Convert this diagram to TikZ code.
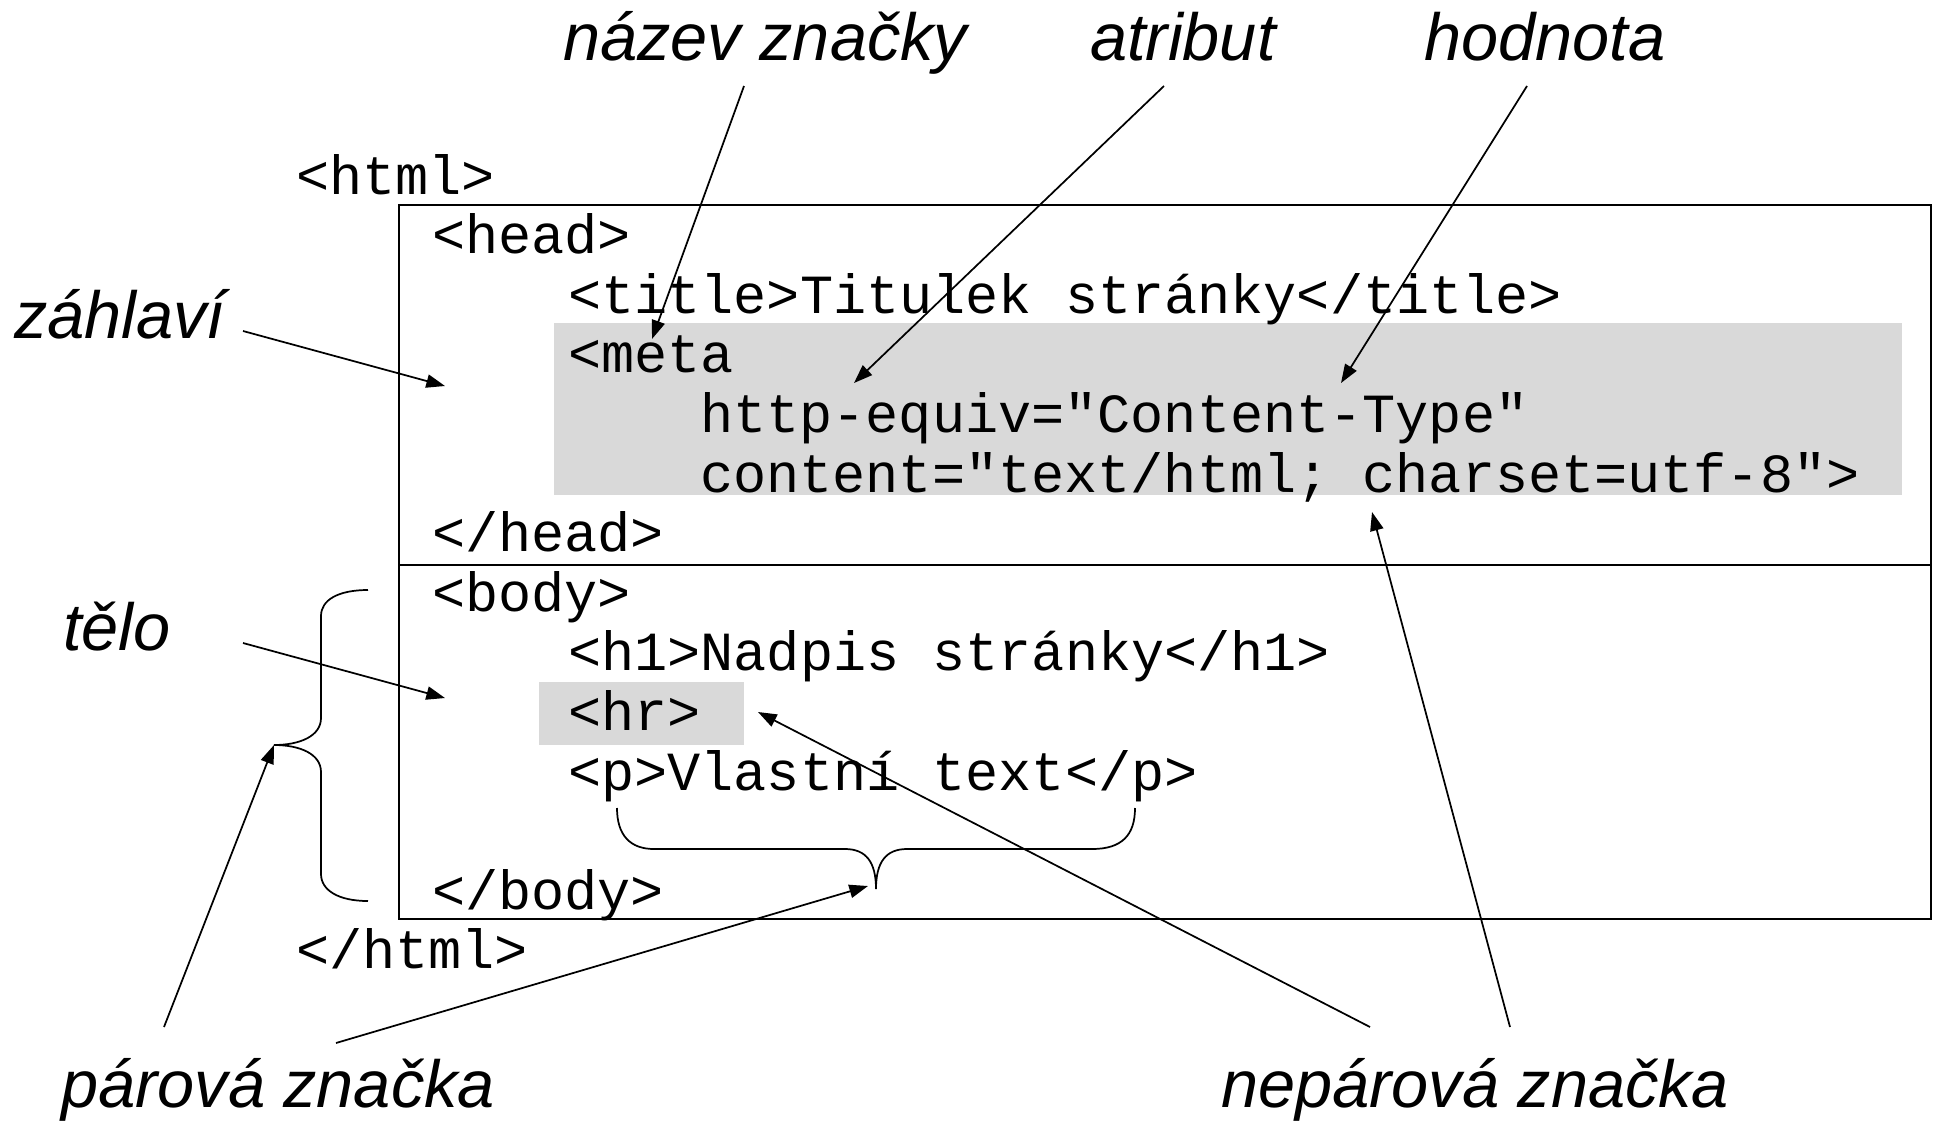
\documentclass[tikz,border=0pt]{standalone}
\usepackage{fontspec}
\usepackage{tikz}
\usetikzlibrary{arrows.meta}
\newfontfamily\codefont{Liberation Mono}
\newfontfamily\labelfont{Liberation Sans}
\definecolor{shadegray}{RGB}{217,217,217}

\begin{document}
\begin{tikzpicture}[x=0.75pt,y=0.75pt,yscale=-1,xscale=1,
    code/.style={anchor=base west,inner sep=0pt,font=\codefont\fontsize{41.4}{50}\selectfont},
    tag/.style={anchor=base west,inner sep=0pt,font=\labelfont\itshape\fontsize{50}{60}\selectfont},
    pointer/.style={-{Triangle[length=14pt,width=10pt]},line width=1.3pt},
    shaded/.style={fill=shadegray,draw=none},
    frame/.style={line width=1.8pt}]
    \useasboundingbox (0,0) rectangle (1935,1122);

    %Shaded rectangles [meta, hr]
    \fill [shaded] (554,323) rectangle (1902,495) ;
    \fill [shaded] (539,682) rectangle (744,745) ;
    %Frame of head and body
    \draw [frame] (399,205) rectangle (1931,919) ;
    \draw [frame] (399,565) -- (1931,565) ;

    % Code lines
    \node [code] (html) at (296,194) {<html>};
    \node [code] (head) at (432,253.6) {<head>};
    \node [code] (title) at (568,313.2) {<title>Titulek stránky</title>};
    \node [code] (meta) at (568,372.8) {<meta};
    \node [code] (equiv) at (700,432.4) {http-equiv="Content-Type"};
    \node [code] (content) at (700,492) {content="text/html; charset=utf-8">};
    \node [code] (headend) at (432,551.6) {</head>};
    \node [code] (body) at (432,611.2) {<body>};
    \node [code] (hone) at (568,670.8) {<h1>Nadpis stránky</h1>};
    \node [code] (hr) at (568,730.4) {<hr>};
    \node [code] (para) at (568,790) {<p>Vlastní text</p>};
    \node [code] (bodyend) at (432,909.2) {</body>};
    \node [code] (htmlend) at (296,968.8) {</html>};

    % Labels
    \node [tag] (nazev) at (563,60) {název značky};
    \node [tag] (atribut) at (1090,60) {atribut};
    \node [tag] (hodnota) at (1424,60) {hodnota};
    \node [tag] (zahlavi) at (14,338) {záhlaví};
    \node [tag] (telo) at (63,650) {tělo};
    \node [tag] (parova) at (61,1107) {párová značka};
    \node [tag] (neparova) at (1221,1107) {nepárová značka};

    %Curve Lines [brace round body]
    \draw [line width=1.3pt] (368,590) .. controls (338,590) and (321,600) .. (321,616) -- (321,718) .. controls (321,736) and (300,745) .. (274,745) .. controls (300,745) and (321,754) .. (321,772) -- (321,874) .. controls (321,890) and (338,901) .. (368,901) ;
    %Curve Lines [brace under p]
    \draw [line width=1.3pt] (617,808) .. controls (617,835) and (630,849) .. (654,849) -- (845,849) .. controls (866,849) and (876,862) .. (876,889) .. controls (876,862) and (886,849) .. (907,849) -- (1092,849) .. controls (1122,849) and (1135,835) .. (1135,808) ;

    % Arrow ends
    \coordinate (nazevA) at (744,86);
    \coordinate (nazevB) at (652,339);
    \coordinate (atributA) at (1164,86);
    \coordinate (atributB) at (854,383);
    \coordinate (hodnotaA) at (1527,86);
    \coordinate (hodnotaB) at (1341,383);
    \coordinate (zahlaviA) at (243,331);
    \coordinate (zahlaviB) at (445,386);
    \coordinate (teloA) at (243,643);
    \coordinate (teloB) at (445,698);
    \coordinate (parovaA) at (164,1027);
    \coordinate (parovaB) at (274,745);
    \coordinate (parovaC) at (336,1043);
    \coordinate (parovaD) at (868,886);
    \coordinate (neparovaA) at (1370,1027);
    \coordinate (neparovaB) at (758,712);
    \coordinate (neparovaC) at (1510,1027);
    \coordinate (neparovaD) at (1372,512);

    % Arrows
    \draw [pointer] (nazevA) -- (nazevB) ;
    \draw [pointer] (atributA) -- (atributB) ;
    \draw [pointer] (hodnotaA) -- (hodnotaB) ;
    \draw [pointer] (zahlaviA) -- (zahlaviB) ;
    \draw [pointer] (teloA) -- (teloB) ;
    \draw [pointer] (parovaA) -- (parovaB) ;
    \draw [pointer] (parovaC) -- (parovaD) ;
    \draw [pointer] (neparovaA) -- (neparovaB) ;
    \draw [pointer] (neparovaC) -- (neparovaD) ;

\end{tikzpicture}
\end{document}
